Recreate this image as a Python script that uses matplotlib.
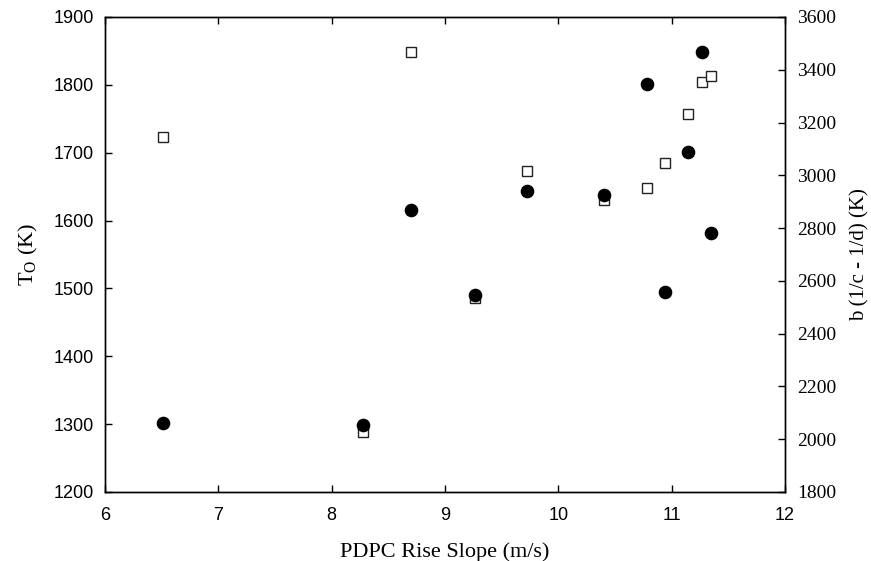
import matplotlib
matplotlib.use("Agg")
import matplotlib.pyplot as plt
from matplotlib.ticker import MultipleLocator

# PDPC rise slope (m/s)
slope = [6.51, 8.28, 8.70, 9.26, 9.72, 10.40, 10.78, 10.94, 11.14, 11.27, 11.35]
# T_O (K), left axis, filled circles
t_o = [1302, 1299, 1616, 1491, 1644, 1638, 1801, 1494, 1701, 1848, 1582]
# b (1/c - 1/d) (K), right axis, open squares
b_val = [3146, 2026, 3466, 2535, 3016, 2906, 2952, 3046, 3232, 3354, 3376]

SANS = "Liberation Sans"
SERIF = "Liberation Serif"

fig = plt.figure(figsize=(8.71, 5.61), dpi=100)
ax = fig.add_axes([0.1206, 0.123, 0.7807, 0.8467])
ax2 = ax.twinx()

# squares on the twin axis, circles drawn above them
ax2.plot(slope, b_val, ls="none", marker="s", ms=7, mfc="white", mec="#222222", mew=1.0)
ax.plot(slope, t_o, ls="none", marker="o", ms=8.8, mfc="black", mec="black")
ax.set_zorder(ax2.get_zorder() + 1)
ax.patch.set_visible(False)

ax.set_xlim(6, 12)
ax.set_ylim(1200, 1900)
ax2.set_ylim(1800, 3600)
ax.xaxis.set_major_locator(MultipleLocator(1))
ax.yaxis.set_major_locator(MultipleLocator(100))
ax2.yaxis.set_major_locator(MultipleLocator(200))

ax.tick_params(axis="x", direction="in", length=5, width=1, top=True, pad=11)
ax.tick_params(axis="y", direction="in", length=5, width=1, right=False, pad=8)
ax2.tick_params(axis="y", direction="in", length=5, width=1, pad=9)

for lbl in ax.get_xticklabels() + ax.get_yticklabels():
    lbl.set_fontfamily(SANS)
    lbl.set_fontsize(13)
for lbl in ax2.get_yticklabels():
    lbl.set_fontfamily(SERIF)
    lbl.set_fontsize(14)

ax.set_xlabel("PDPC Rise Slope (m/s)", family=SERIF, fontsize=16, labelpad=13)
ax.set_ylabel(r"T$_\mathregular{O}$ (K)", family=SERIF, fontsize=16, labelpad=10)
ax2.set_ylabel("b (1/c - 1/d) (K)", family=SERIF, fontsize=15, labelpad=10)

for a in (ax, ax2):
    for sp in a.spines.values():
        sp.set_linewidth(1.0)

fig.savefig("out.png", dpi=100)
